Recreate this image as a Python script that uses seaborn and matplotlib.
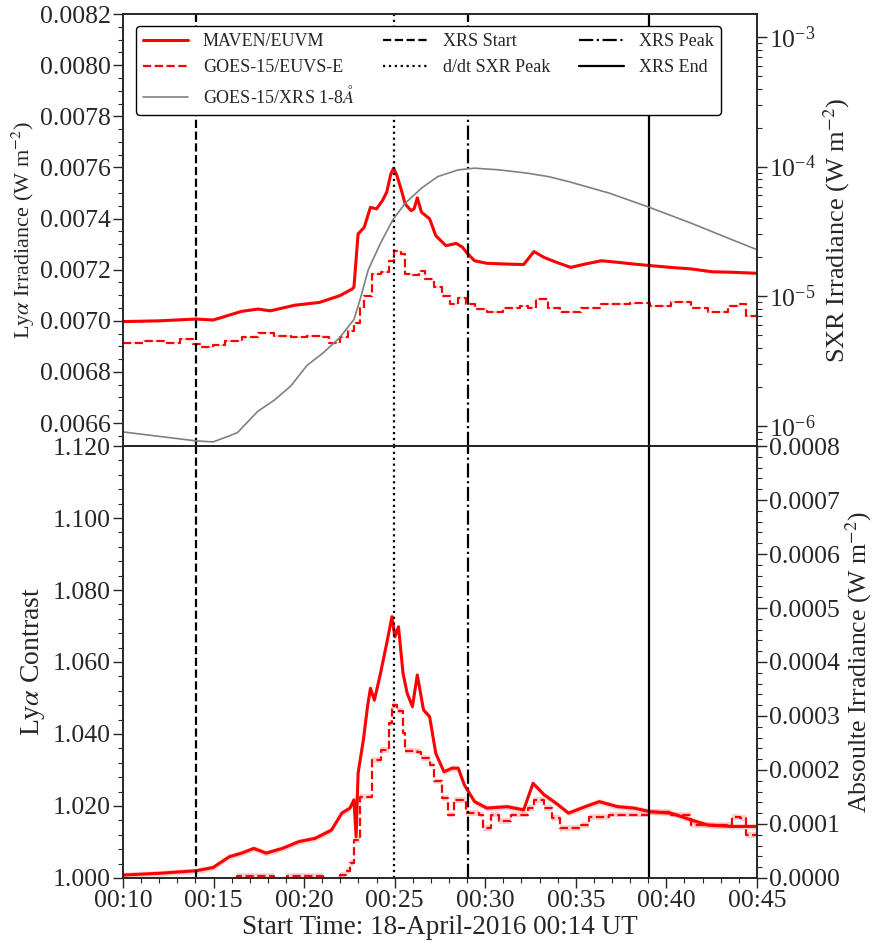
import matplotlib
matplotlib.use("Agg")
import matplotlib.pyplot as plt
import matplotlib.dates as mdates
from matplotlib.ticker import (AutoMinorLocator, FuncFormatter, LogLocator, MultipleLocator,
                               NullFormatter)
import seaborn as sns
import pandas as pd

# minutes after 00:10 UT on 18 April 2016
base = pd.Timestamp("2016-04-18 00:10:00")

# MAVEN/EUVM Ly-alpha irradiance (W m^-2), top panel
maven_t = [0.00, 2.03, 4.04, 4.97, 6.55, 7.45, 8.13, 9.48, 10.84, 11.96, 12.64, 12.75,
           12.98, 13.32, 13.66, 14.00, 14.33, 14.56, 14.79, 14.94, 15.12, 15.35, 15.58,
           15.91, 16.07, 16.25, 16.48, 16.93, 17.27, 17.83, 18.40, 18.74, 19.01, 19.41,
           20.09, 21.22, 22.12, 22.69, 23.25, 23.93, 24.72, 25.51, 26.41, 27.31, 28.22,
           29.12, 30.25, 31.38, 32.51, 33.63, 35.00]
maven_irr = [0.006997, 0.007000, 0.007007, 0.007003, 0.007037, 0.007046, 0.007039,
             0.007061, 0.007072, 0.007098, 0.007124, 0.007131, 0.007340, 0.007366,
             0.007444, 0.007438, 0.007471, 0.007503, 0.007575, 0.007597, 0.007569,
             0.007516, 0.007457, 0.007431, 0.007438, 0.007481, 0.007425, 0.007399,
             0.007333, 0.007294, 0.007303, 0.007288, 0.007264, 0.007235, 0.007225,
             0.007222, 0.007220, 0.007271, 0.007248, 0.007229, 0.007209, 0.007222,
             0.007235, 0.007229, 0.007222, 0.007216, 0.007209, 0.007203, 0.007192,
             0.007190, 0.007186]

# GOES-15/EUVS-E Ly-alpha irradiance (W m^-2), top panel
goes_t = [0.00, 1.13, 2.26, 3.16, 3.84, 4.29, 4.97, 5.64, 6.55, 7.45, 8.35, 9.26, 10.16,
          11.06, 11.40, 11.96, 12.42, 12.75, 13.09, 13.32, 13.77, 14.22, 14.67, 14.94,
          15.35, 15.58, 16.03, 16.37, 16.70, 17.16, 17.61, 18.06, 18.51, 18.96, 19.41,
          20.09, 20.99, 21.90, 22.35, 22.80, 23.48, 24.15, 25.28, 26.41, 27.99, 29.12,
          30.25, 31.38, 32.28, 33.41, 34.09, 34.42, 35.00]
goes_irr = [0.006915, 0.006922, 0.006915, 0.006928, 0.006909, 0.006898, 0.006906,
            0.006922, 0.006935, 0.006954, 0.006941, 0.006937, 0.006941, 0.006935,
            0.006915, 0.006935, 0.006961, 0.006993, 0.007052, 0.007098, 0.007183,
            0.007190, 0.007235, 0.007274, 0.007261, 0.007183, 0.007180, 0.007196,
            0.007163, 0.007131, 0.007098, 0.007065, 0.007091, 0.007065, 0.007046,
            0.007033, 0.007052, 0.007059, 0.007052, 0.007085, 0.007052, 0.007033,
            0.007052, 0.007065, 0.007068, 0.007059, 0.007072, 0.007052, 0.007033,
            0.007059, 0.007065, 0.007020, 0.007033]

# GOES-15/XRS 1-8 A flux (W m^-2)
xrs_t = [0.00, 4.04, 4.97, 5.87, 6.32, 7.45, 8.35, 9.26, 10.16, 11.06, 11.96, 12.75,
         13.09, 13.54, 14.22, 14.90, 15.58, 16.48, 17.38, 18.51, 19.41, 20.77, 22.35,
         23.48, 24.60, 26.86, 29.05, 31.38, 33.63, 35.00]
xrs_flux = [8.99e-7, 7.67e-7, 7.53e-7, 8.38e-7, 8.89e-7, 1.30e-6, 1.58e-6, 2.03e-6,
            2.93e-6, 3.67e-6, 4.79e-6, 6.62e-6, 9.44e-6, 1.60e-5, 2.57e-5, 3.89e-5,
            5.22e-5, 6.82e-5, 8.38e-5, 9.44e-5, 9.73e-5, 9.44e-5, 8.89e-5, 8.38e-5,
            7.67e-5, 6.24e-5, 4.86e-5, 3.66e-5, 2.73e-5, 2.29e-5]

# Ly-alpha contrast, bottom panel
maven_ct = [0.00, 2.03, 4.04, 4.97, 5.87, 6.55, 7.22, 7.90, 8.80, 9.71, 10.61, 11.51,
            12.08, 12.53, 12.75, 12.87, 12.98, 13.27, 13.50, 13.66, 13.88, 14.22, 14.56,
            14.85, 15.01, 15.21, 15.46, 15.69, 15.98, 16.25, 16.59, 16.93, 17.27, 17.72,
            18.17, 18.51, 18.85, 19.41, 20.09, 21.22, 22.12, 22.64, 23.25, 23.93, 24.60,
            25.51, 26.30, 27.31, 28.22, 29.12, 30.25, 31.38, 32.28, 33.63, 35.00]
maven_con = [1.0008, 1.0013, 1.0020, 1.0029, 1.0059, 1.0069, 1.0082, 1.0069, 1.0082,
             1.0101, 1.0110, 1.0133, 1.0180, 1.0194, 1.0217, 1.0115, 1.0291, 1.0383,
             1.0476, 1.0527, 1.0494, 1.0569, 1.0652, 1.0726, 1.0670, 1.0698, 1.0569,
             1.0513, 1.0476, 1.0564, 1.0467, 1.0448, 1.0346, 1.0295, 1.0305, 1.0305,
             1.0258, 1.0212, 1.0194, 1.0198, 1.0189, 1.0263, 1.0231, 1.0207, 1.0180,
             1.0198, 1.0212, 1.0198, 1.0194, 1.0184, 1.0180, 1.0161, 1.0147, 1.0143,
             1.0143]

goes_ct = [0.00, 5.87, 6.32, 8.35, 9.03, 11.06, 11.96, 12.30, 12.53, 12.75, 13.09, 13.43,
           13.77, 14.22, 14.67, 14.85, 15.12, 15.35, 15.46, 15.58, 16.25, 16.48, 16.93,
           17.16, 17.61, 17.95, 18.28, 18.74, 18.96, 19.64, 19.86, 20.32, 20.77, 21.44,
           22.35, 22.69, 23.25, 23.70, 24.15, 25.28, 25.73, 26.86, 28.22, 29.12, 30.25,
           31.38, 32.28, 33.63, 34.09, 34.42, 35.00]
goes_con = [0.9985, 0.9985, 1.0006, 0.9990, 1.0006, 0.9990, 1.0008, 1.0020, 1.0041,
            1.0106, 1.0226, 1.0226, 1.0328, 1.0356, 1.0430, 1.0481, 1.0463, 1.0463,
            1.0403, 1.0352, 1.0351, 1.0333, 1.0315, 1.0268, 1.0222, 1.0176, 1.0217,
            1.0217, 1.0180, 1.0176, 1.0139, 1.0176, 1.0158, 1.0176, 1.0194, 1.0217,
            1.0194, 1.0167, 1.0139, 1.0148, 1.0170, 1.0176, 1.0176, 1.0184, 1.0176,
            1.0148, 1.0148, 1.0170, 1.0166, 1.0120, 1.0143]

# flare timing markers (minutes after 00:10)
event_names = ["XRS Start", "d/dt SXR Peak", "XRS Peak", "XRS End"]
event_t = [4.05, 14.98, 19.05, 29.05]
event_styles = ["--", ":", "-.", "-"]

irr_err = 3.6e-6
con_err = 0.0008


def to_time(mins):
    return base + pd.to_timedelta(mins, unit="m")


sns.set_style("ticks")
plt.rcParams["font.family"] = ["Liberation Serif", "DejaVu Serif"]
plt.rcParams["mathtext.fontset"] = "stix"
plt.rcParams["xtick.labelsize"] = 18.5
plt.rcParams["ytick.labelsize"] = 18.5

fig, (ax1, ax3) = plt.subplots(2, 1, sharex=True, figsize=(8.75, 9.42), dpi=100)
fig.subplots_adjust(left=0.1406, right=0.865, top=0.985, bottom=0.068, hspace=0)

df_maven = pd.DataFrame({"time": to_time(maven_t), "irr": maven_irr})
df_goes = pd.DataFrame({"time": to_time(goes_t), "irr": goes_irr})
df_xrs = pd.DataFrame({"time": to_time(xrs_t), "flux": xrs_flux})
df_mc = pd.DataFrame({"time": to_time(maven_ct), "con": maven_con})
df_gc = pd.DataFrame({"time": to_time(goes_ct), "con": goes_con})

# top panel
ax1.fill_between(df_maven["time"], df_maven["irr"] - irr_err, df_maven["irr"] + irr_err,
                 color="red", alpha=0.18, lw=0)
ax1.fill_between(df_goes["time"], df_goes["irr"] - irr_err, df_goes["irr"] + irr_err,
                 color="red", alpha=0.18, lw=0, step="post")
sns.lineplot(data=df_maven, x="time", y="irr", ax=ax1, color="red", lw=2.2,
             label="MAVEN/EUVM", estimator=None)
sns.lineplot(data=df_goes, x="time", y="irr", ax=ax1, color="red", lw=1.6, ls="--",
             drawstyle="steps-post", label="GOES-15/EUVS-E", estimator=None)
for name, t, st in zip(event_names, event_t, event_styles):
    ax1.axvline(to_time(t), color="black", ls=st, lw=1.6, label=name)
ax1.set_ylim(0.00651, 0.0082)
ax1.yaxis.set_major_locator(MultipleLocator(0.0002))
ax1.yaxis.set_major_formatter(FuncFormatter(lambda v, p: f"{v:.4f}"))
ax1.yaxis.set_minor_locator(AutoMinorLocator(4))
ax1.set_ylabel(r"Ly$\alpha$ Irradiance (W m$^{-2}$)", fontsize=16, labelpad=2)
ax1.set_xlabel("")

ax2 = ax1.twinx()
sns.lineplot(data=df_xrs, x="time", y="flux", ax=ax2, color="gray", lw=1.2,
             label=r"GOES-15/XRS 1-8$\AA$", estimator=None)
ax2.set_yscale("log")
ax2.set_ylim(7e-7, 1.5e-3)
ax2.yaxis.set_minor_locator(LogLocator(base=10, subs=range(2, 10)))
ax2.yaxis.set_minor_formatter(NullFormatter())
ax2.set_ylabel(r"SXR Irradiance (W m$^{-2}$)", fontsize=19)

h1, l1 = ax1.get_legend_handles_labels()
h2, l2 = ax2.get_legend_handles_labels()
ax1.get_legend().remove()
handles = [h1[0], h1[1], h2[0]] + h1[2:]
labels = [l1[0], l1[1], l2[0]] + l1[2:]
ax2.legend(handles, labels, ncol=3, loc="upper left", bbox_to_anchor=(0.012, 0.985),
           fontsize=13, frameon=True, framealpha=1, edgecolor="black",
           handlelength=2.5, columnspacing=1.6, borderaxespad=0.3)

# bottom panel
ax3.fill_between(df_mc["time"], df_mc["con"] - con_err, df_mc["con"] + con_err,
                 color="red", alpha=0.18, lw=0)
ax3.fill_between(df_gc["time"], df_gc["con"] - con_err, df_gc["con"] + con_err,
                 color="red", alpha=0.18, lw=0, step="post")
sns.lineplot(data=df_mc, x="time", y="con", ax=ax3, color="red", lw=2.2, estimator=None)
sns.lineplot(data=df_gc, x="time", y="con", ax=ax3, color="red", lw=1.6, ls="--",
             drawstyle="steps-post", estimator=None)
for t, st in zip(event_t, event_styles):
    ax3.axvline(to_time(t), color="black", ls=st, lw=1.6)
ax3.set_ylim(1.0, 1.12)
ax3.yaxis.set_major_formatter(FuncFormatter(lambda v, p: f"{v:.3f}"))
ax3.yaxis.set_minor_locator(AutoMinorLocator(5))
ax3.set_ylabel(r"Ly$\alpha$ Contrast", fontsize=20)
ax3.set_xlabel("Start Time: 18-April-2016 00:14 UT", fontsize=19.5, labelpad=2)

ax4 = ax3.twinx()
ax4.set_ylim(0.0, 0.0008)
ax4.yaxis.set_major_formatter(FuncFormatter(lambda v, p: f"{v:.4f}"))
ax4.yaxis.set_minor_locator(AutoMinorLocator(5))
ax4.set_ylabel(r"Absoulte Irradiance (W m$^{-2}$)", fontsize=18.5, labelpad=2)

ax3.set_xlim(to_time(0), to_time(35))
ax3.xaxis.set_major_locator(mdates.MinuteLocator(byminute=range(0, 60, 5)))
ax3.xaxis.set_minor_locator(mdates.MinuteLocator())
ax3.xaxis.set_major_formatter(mdates.DateFormatter("%H:%M"))

for ax in (ax1, ax2, ax3, ax4):
    ax.tick_params(which="major", length=7, width=1, pad=2)
    ax.tick_params(which="minor", length=3.5, width=0.8)
    for sp in ax.spines.values():
        sp.set_linewidth(1.2)

fig.savefig("out.png", dpi=100)
